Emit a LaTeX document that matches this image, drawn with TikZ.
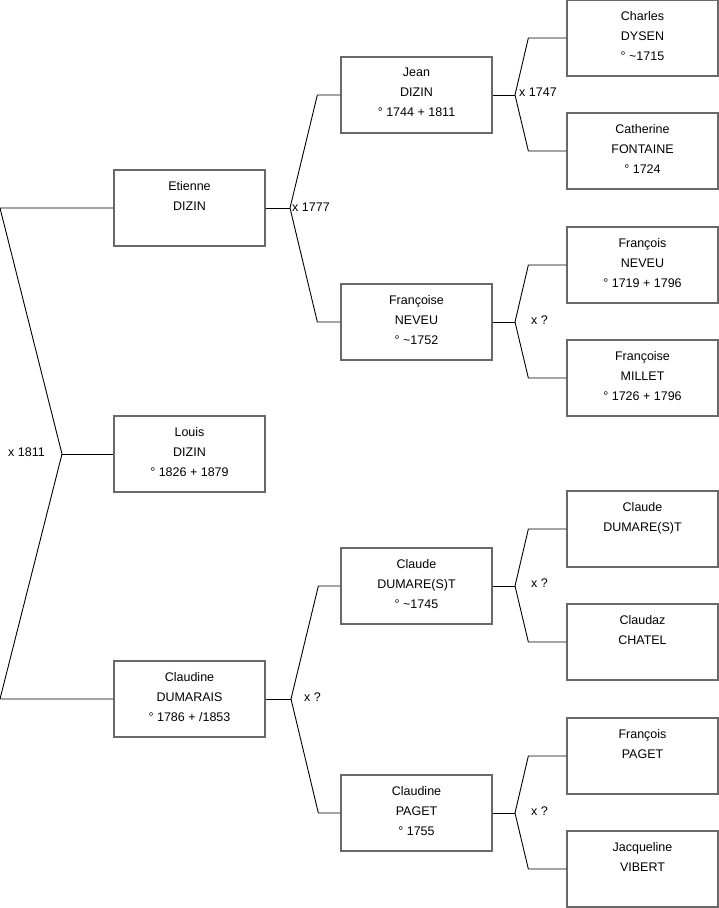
\documentclass[tikz,border=0pt]{standalone}
\usepackage{fontspec}
\setmainfont{Liberation Sans}
\usepackage{tikz}
\usetikzlibrary{calc}
\definecolor{boxgray}{RGB}{105,105,105}

\begin{document}
\begin{tikzpicture}[x=1pt,y=-1pt,
    pers/.style={draw=boxgray,line width=1.3pt,fill=white,minimum width=151pt,minimum height=76pt,
      inner sep=0pt,align=center,text depth=5pt,font=\fontsize{12.5}{20}\selectfont},
    mar/.style={inner sep=0pt,font=\fontsize{12.5}{15}\selectfont},
    link/.style={line width=0.9pt,black}]
  \useasboundingbox (0,0) rectangle (719,908);
  % generation 1
  \node[pers] (louis) at (189.5,454) {Louis\\DIZIN\\\textdegree{} 1826 + 1879};
  % generation 2
  \node[pers] (etienne) at (189.5,208) {Etienne\\DIZIN\\~};
  \node[pers] (claudineD) at (189.5,699) {Claudine\\DUMARAIS\\\textdegree{} 1786 + /1853};
  % generation 3
  \node[pers] (jean) at (416.5,95) {Jean\\DIZIN\\\textdegree{} 1744 + 1811};
  \node[pers] (francoiseN) at (416.5,322) {Françoise\\NEVEU\\\textdegree{} \textasciitilde1752};
  \node[pers] (claudeD) at (416.5,586) {Claude\\DUMARE(S)T\\\textdegree{} \textasciitilde1745};
  \node[pers] (claudineP) at (416.5,813) {Claudine\\PAGET\\\textdegree{} 1755};
  % generation 4
  \node[pers] (charles) at (642.5,38) {Charles\\DYSEN\\\textdegree{} \textasciitilde1715};
  \node[pers] (catherine) at (642.5,151) {Catherine\\FONTAINE\\\textdegree{} 1724};
  \node[pers] (francoisN) at (642.5,265) {François\\NEVEU\\\textdegree{} 1719 + 1796};
  \node[pers] (francoiseM) at (642.5,378) {Françoise\\MILLET\\\textdegree{} 1726 + 1796};
  \node[pers] (claude) at (642.5,529) {Claude\\DUMARE(S)T\\~};
  \node[pers] (claudaz) at (642.5,642) {Claudaz\\CHATEL\\~};
  \node[pers] (francoisP) at (642.5,756) {François\\PAGET\\~};
  \node[pers] (jacqueline) at (642.5,869) {Jacqueline\\VIBERT\\~};

  % forks
  \coordinate (f0) at (62,454);
  \coordinate (f0a) at (0,208);
  \coordinate (f0b) at (0,699);
  \coordinate (f1) at (290,208);
  \coordinate (f2) at (291,699);
  \coordinate (f3) at (515,95);
  \coordinate (f4) at (515,322);
  \coordinate (f5) at (515,586);
  \coordinate (f6) at (515,813);

  \draw[link] (etienne.west) -- (f0a) -- (f0) -- (f0b) -- (claudineD.west);
  \draw[link] (f0) -- (louis.west);
  \draw[link] (etienne.east) -- (f1);
  \draw[link] (jean.west) -- ++(-23,0) -- (f1) -- ([xshift=-23]francoiseN.west) -- (francoiseN.west);
  \draw[link] (claudineD.east) -- (f2);
  \draw[link] (claudeD.west) -- ++(-22,0) -- (f2) -- ([xshift=-22]claudineP.west) -- (claudineP.west);
  \draw[link] (jean.east) -- (f3);
  \draw[link] (charles.west) -- ++(-38,0) -- (f3) -- ([xshift=-38]catherine.west) -- (catherine.west);
  \draw[link] (francoiseN.east) -- (f4);
  \draw[link] (francoisN.west) -- ++(-38,0) -- (f4) -- ([xshift=-38]francoiseM.west) -- (francoiseM.west);
  \draw[link] (claudeD.east) -- (f5);
  \draw[link] (claude.west) -- ++(-38,0) -- (f5) -- ([xshift=-38]claudaz.west) -- (claudaz.west);
  \draw[link] (claudineP.east) -- (f6);
  \draw[link] (francoisP.west) -- ++(-38,0) -- (f6) -- ([xshift=-38]jacqueline.west) -- (jacqueline.west);

  % marriages
  \node[mar,anchor=east] (m0) at (45,452) {x 1811};
  \node[mar,anchor=west] (m1) at (292,207) {x 1777};
  \node[mar,anchor=west] (m2) at (304,697) {x ?};
  \node[mar,anchor=west] (m3) at (519,92) {x 1747};
  \node[mar,anchor=west] (m4) at (531,320) {x ?};
  \node[mar,anchor=west] (m5) at (531,583) {x ?};
  \node[mar,anchor=west] (m6) at (531,811) {x ?};
\end{tikzpicture}
\end{document}
